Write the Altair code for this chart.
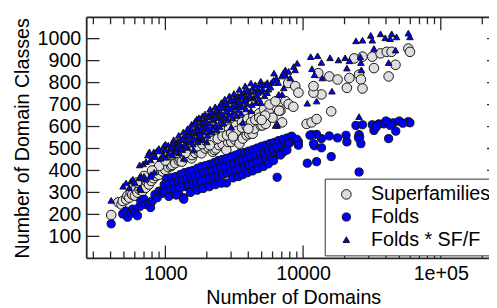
import altair as alt
import pandas as pd

# ---------------- data ----------------
sf_x = [404, 455, 480, 490, 520, 530, 547, 560, 575, 600, 610, 627, 650, 660, 682, 700, 720, 730, 760, 775,
        790, 810, 820, 850, 872, 880, 900, 926, 950, 960, 1000, 1040, 1050, 1100, 1122, 1150, 1179, 1250, 1260, 1287,
        1316, 1380, 1400, 1480, 1500, 1550, 1559, 1650, 1660, 1750, 1800, 1838, 1830, 1950, 1980, 2050, 2150, 2210, 2280, 2340,
        2400, 2450, 2600, 2650, 2772, 2850, 2900, 3010, 3200, 3250, 3450, 3600, 3650, 3900, 3950, 4070, 4300, 4350, 4420, 4800,
        4930, 5070, 5200, 5350, 5640, 5700, 6000, 6300, 6850, 7040, 6700, 7440, 7850, 7800, 8500, 8770, 9250, 10610, 11530, 12540,
        16000, 25500, 13600, 11900, 11900, 12900, 15500, 17800, 21700, 25500, 26300, 27000, 20800, 32700, 41800, 46900, 23500, 27000, 31800, 36500,
        40500, 43900, 58100, 59700,
        1100, 1200, 1300, 1420, 1550, 1700, 1850, 2000, 2200, 2400, 2600, 2800, 3000, 3300, 3600, 3900, 4200, 4500, 4800, 5300,
        900, 800, 700, 620, 1000, 1400, 2100, 3100, 4000, 5000]
sf_y = [197, 255, 245, 261, 268, 285, 276, 300, 290, 285, 315, 299, 312, 335, 306, 330, 321, 350, 336, 365,
        352, 385, 365, 375, 388, 410, 380, 403, 430, 395, 403, 440, 415, 420, 425, 455, 433, 445, 475, 448,
        440, 490, 460, 465, 505, 455, 470, 480, 515, 485, 535, 493, 478, 500, 545, 505, 555, 485, 493, 500,
        570, 515, 520, 580, 493, 530, 590, 530, 540, 605, 522, 620, 545, 560, 635, 567, 567, 645, 590, 660,
        605, 605, 680, 612, 664, 700, 640, 715, 672, 619, 672, 716, 702, 798, 690, 784, 754, 612, 619, 634,
        669, 552, 746, 754, 784, 843, 828, 814, 821, 836, 814, 773, 776, 866, 828, 881, 910, 918, 918, 933,
        940, 940, 955, 940,
        470, 480, 490, 500, 505, 510, 520, 530, 535, 545, 555, 560, 570, 580, 595, 600, 620, 630, 640, 650,
        420, 400, 375, 345, 445, 480, 515, 555, 590, 630]

fold_x = [404, 490, 515, 532, 560, 578, 600, 627, 650, 663, 700, 720, 760, 781, 803, 840, 872, 900, 940, 952,
          972, 1005, 1090, 1116, 1153, 1245, 1252, 1350, 1360, 1397, 1467, 1517, 1638, 1693, 1890, 1930, 2275, 2352, 2610, 2772,
          1020, 1110, 1190, 1290, 1380, 1490, 1590, 1710, 1830, 1960, 2100, 2260, 2420, 2600, 2790, 3000, 3230, 3470, 3730, 4010,
          4310, 4630, 4980, 5350, 5750, 6180, 6640, 7140, 7680, 8260,
          980, 1060, 1150, 1240, 1330, 1430, 1540, 1650, 1770, 1900, 2040, 2190, 2360, 2540, 2730, 2930, 3150, 3390, 3640, 3910,
          4200, 4520, 4860, 5220, 5610, 6030, 6480, 6970, 7490, 8050,
          1000, 1080, 1170, 1260, 1360, 1460, 1570, 1690, 1810, 1950, 2090, 2250, 2420, 2600, 2800, 3010, 3240, 3480, 3740, 4020,
          4330, 4650, 5000, 5380, 5780, 6220, 6690, 7190,
          1060, 1200, 1520, 1700, 1880, 2080, 2300, 2550, 3090, 3400, 3650, 3950, 4300, 4700, 5150, 5600, 6100, 6480, 6850,
          24200, 27000, 31800, 32700, 35500, 38500, 41800, 45400, 47100, 41800, 58100, 59700, 25500, 25500, 26300, 20500, 20800, 17800, 15500, 13600,
          13600, 12540, 11530, 12100, 16000, 12540, 10730, 25500, 9250, 9000, 7850, 7630, 11900, 11220, 9250, 40000, 34000, 43000, 50000, 53000]
fold_y = [157, 202, 215, 187, 205, 224, 210, 194, 235, 261, 269, 245, 250, 231, 261, 290, 276, 306, 295, 306,
          306, 306, 313, 321, 321, 313, 291, 276, 269, 328, 328, 343, 336, 366, 373, 351, 373, 358, 388, 343,
          362, 368, 372, 382, 390, 396, 400, 410, 418, 422, 428, 436, 445, 450, 455, 462, 470, 478, 482, 488,
          494, 502, 510, 515, 522, 528, 536, 542, 548, 556,
          335, 338, 344, 350, 356, 362, 368, 372, 380, 388, 392, 398, 406, 412, 420, 425, 432, 440, 448, 455,
          460, 468, 475, 482, 490, 498, 505, 512, 520, 528,
          305, 310, 316, 322, 326, 333, 338, 345, 350, 356, 362, 368, 375, 382, 388, 395, 402, 410, 416, 424,
          430, 438, 445, 452, 460, 468, 476, 484,
          282, 288, 300, 310, 318, 326, 335, 342, 366, 372, 381, 390, 398, 408, 418, 430, 445, 369, 470,
          605, 608, 608, 582, 612, 612, 617, 617, 579, 545, 622, 617, 563, 545, 522, 560, 530, 548, 557, 545,
          503, 564, 563, 512, 463, 440, 433, 393, 530, 542, 522, 493, 522, 560, 515, 625, 598, 605, 625, 615]

tri_x = [404, 493, 518, 547, 562, 580, 600, 645, 650, 663, 666, 700, 720, 781, 785, 830,
         650, 690, 724, 745, 765, 781, 800, 825, 848, 870, 896, 940, 972, 1000, 1050, 1122, 1146, 1180, 1218, 1245,
         1300, 1360, 1360, 1420, 1477, 1540, 1603, 1647, 1693, 1740, 1790, 1860, 1940, 2000, 2110, 2300, 2554, 2700, 2920, 3150,
         3450, 3800, 4180, 4930, 5350, 6150, 7440, 8550,
         1838, 2110, 2352, 3010, 3650, 4183, 4930, 6480, 5480, 4540, 6660, 6310,
         920, 960, 1010, 1060, 1090, 1130, 1170, 1220, 1260, 1290, 1330, 1380, 1410, 1450, 1500, 1530, 1580, 1620, 1660, 1700,
         1720, 1760, 1800, 1820, 1870, 1900, 1930, 1960, 2020, 2050, 2080, 2120, 2170, 2200, 2230, 2260, 2330, 2380, 2420, 2480,
         2520, 2560, 2600, 2650, 2700, 2750, 2800, 2860, 2900, 2960, 3000, 3080, 3120, 3180, 3230, 3300, 3360, 3420, 3480, 3550,
         3620, 3700, 3760, 3850, 3920, 4000, 4060, 4250, 4350, 4450, 4600, 4700, 4800, 5000, 5100, 5250, 5600, 5900, 6400, 7000, 5300,
         1150, 1250, 1350, 1450, 1550, 1650, 1750, 1850, 1950, 2050, 2150, 2250, 2350, 2450, 2550, 2650, 2750, 2850, 2950, 3050,
         3150, 3250, 3350, 3450, 3550, 3650, 3750, 3850, 3950, 4100, 4300, 4500, 4700, 4900, 5100, 5500, 5800, 6100, 6600, 7200,
         1000, 1100, 1200, 1300, 1400, 1500, 1600, 1700, 1800, 1900,
         24200, 27000, 31000, 31800, 36500, 39500, 42900, 44000, 47700, 58100, 59700, 32700, 46900, 11350, 12750, 13600, 15700, 18070, 20200, 21700,
         26000, 26300, 26500, 20800, 41800, 13800, 12100, 11600, 9060, 8770, 7850, 8080, 7440, 16200, 12540, 10730, 25500, 7040, 7240, 6480]
tri_y = [264, 328, 343, 321, 351, 360, 345, 366, 321, 313, 373, 373, 360, 373, 381, 392,
         425, 430, 440, 470, 485, 448, 465, 485, 463, 490, 500, 488, 510, 495, 515, 522, 525, 505, 530, 530,
         540, 552, 455, 560, 575, 590, 493, 619, 634, 545, 634, 648, 657, 530, 679, 690, 709, 725, 739, 750,
         769, 785, 798, 806, 791, 843, 858, 873,
         552, 582, 585, 597, 619, 672, 709, 605, 754, 709, 746, 605,
         455, 470, 460, 478, 500, 470, 490, 505, 480, 515, 495, 520, 540, 505, 530, 555, 520, 545, 570, 600,
         530, 560, 585, 615, 540, 575, 600, 630, 560, 590, 615, 645, 575, 600, 630, 660, 610, 640, 668, 600,
         625, 650, 685, 615, 640, 668, 700, 630, 655, 680, 715, 640, 665, 690, 720, 650, 675, 700, 735, 660,
         690, 715, 748, 680, 705, 730, 760, 700, 730, 760, 740, 775, 725, 760, 790, 740, 770, 800, 820, 830, 790,
         540, 560, 575, 590, 610, 625, 640, 600, 610, 650, 665, 640, 675, 690, 660, 700, 705, 690, 720, 690,
         725, 700, 740, 715, 745, 735, 760, 725, 765, 740, 775, 790, 755, 790, 770, 800, 780, 810, 800, 845,
         520, 505, 485, 500, 510, 560, 575, 585, 560, 620,
         990, 993, 1015, 993, 1022, 1004, 1000, 1022, 1008, 1025, 1008, 955, 948, 918, 922, 892, 913, 903, 913, 899,
         918, 891, 858, 866, 891, 821, 836, 863, 888, 858, 851, 821, 836, 761, 716, 706, 645, 746, 776, 612]

series_names = ["Superfamilies", "Folds", "Folds * SF/F"]
y_ticks = [100, 200, 300, 400, 500, 600, 700, 800, 900, 1000]
x_major = [1000, 10000, 100000]
x_minor = [300, 400, 500, 600, 700, 800, 900, 2000, 3000, 4000, 5000, 6000, 7000, 8000, 9000,
           20000, 30000, 40000, 50000, 60000, 70000, 80000, 90000, 200000]

# ---------------- tables ----------------
rows = []
for name, xs, ys in [(series_names[0], sf_x, sf_y), (series_names[1], fold_x, fold_y), (series_names[2], tri_x, tri_y)]:
    for a, b in zip(xs, ys):
        rows.append({"domains": a, "classes": b, "series": name})
df = pd.DataFrame(rows)

W, H = 409, 245
RX = 420
FONT = "Liberation Sans"
INK = "#262626"

xscale = alt.Scale(type="log", domain=[268.3, 268300], range=[0, RX])
yscale = alt.Scale(domain=[0, 1097], nice=False, zero=False)

xaxis = alt.Axis(values=x_major, ticks=False, domain=False, grid=False,
                 labelExpr="datum.value >= 100000 ? '1e+05' : format(datum.value, 'd')",
                 labelFontSize=20, labelPadding=6, labelFlush=False,
                 title="Number of Domains", titleFontSize=20, titleFontWeight="normal",
                 titlePadding=4)
yaxis = alt.Axis(values=y_ticks, ticks=False, domain=False, grid=False, format="d",
                 labelFontSize=20, labelPadding=6,
                 title="Number of Domain Classes", titleFontSize=20, titleFontWeight="normal",
                 titlePadding=5)

leg = alt.Legend(title=None, orient="none", legendX=242, legendY=164,
                 strokeColor="#333333", fillColor="white", padding=6,
                 labelFontSize=20, labelFont=FONT, labelColor="black",
                 symbolOffset=6, labelOffset=15, rowPadding=3,
                 symbolStrokeWidth=1)

points = alt.Chart(df).mark_point(filled=True, strokeWidth=1, opacity=1).encode(
    x=alt.X("domains:Q", scale=xscale, axis=xaxis, title="Number of Domains"),
    y=alt.Y("classes:Q", scale=yscale, axis=yaxis, title="Number of Domain Classes"),
    fill=alt.Fill("series:N", scale=alt.Scale(domain=series_names, range=["#dedede", "#0000ff", "#0000ff"]),
                  legend=leg),
    stroke=alt.Stroke("series:N", scale=alt.Scale(domain=series_names, range=["#111111", "#111111", "#111111"]),
                      legend=leg),
    shape=alt.Shape("series:N", scale=alt.Scale(domain=series_names, range=["circle", "circle", "triangle-up"]),
                    legend=leg),
    size=alt.Size("series:N", scale=alt.Scale(domain=series_names, range=[95, 44, 110]),
                  legend=leg),
)

yt = pd.DataFrame({"v": y_ticks})
xmaj = pd.DataFrame({"v": x_major})
xmin = pd.DataFrame({"v": x_minor})
one = pd.DataFrame({"k": [0]})

rule_style = dict(color=INK, strokeWidth=1.3)

def yenc():
    return alt.Y("v:Q", scale=yscale, axis=yaxis, title="Number of Domain Classes")

def xenc():
    return alt.X("v:Q", scale=xscale, axis=xaxis, title="Number of Domains")

ytick_left = alt.Chart(yt).mark_rule(**rule_style).encode(y=yenc(), x=alt.value(0), x2=alt.value(13))
ytick_right = alt.Chart(yt).mark_rule(**rule_style).encode(y=yenc(), x=alt.value(RX - 13), x2=alt.value(RX))
xmaj_bottom = alt.Chart(xmaj).mark_rule(**rule_style).encode(x=xenc(), y=alt.value(H - 13), y2=alt.value(H))
xmaj_top = alt.Chart(xmaj).mark_rule(**rule_style).encode(x=xenc(), y=alt.value(0), y2=alt.value(13))
xmin_bottom = alt.Chart(xmin).mark_rule(**rule_style).encode(x=xenc(), y=alt.value(H - 7), y2=alt.value(H))
xmin_top = alt.Chart(xmin).mark_rule(**rule_style).encode(x=xenc(), y=alt.value(0), y2=alt.value(7))

frame_style = dict(color=INK, strokeWidth=1.8)
frame_top = alt.Chart(one).mark_rule(**frame_style).encode(x=alt.value(0), x2=alt.value(RX), y=alt.value(0))
frame_bottom = alt.Chart(one).mark_rule(**frame_style).encode(x=alt.value(0), x2=alt.value(RX), y=alt.value(H))
frame_left = alt.Chart(one).mark_rule(**frame_style).encode(x=alt.value(0), y=alt.value(0), y2=alt.value(H))

chart = alt.layer(
    points, ytick_left, ytick_right, xmaj_bottom, xmaj_top, xmin_bottom, xmin_top,
    frame_top, frame_bottom, frame_left,
).properties(
    width=W, height=H,
    padding={"left": 80, "top": 7, "right": 0, "bottom": 48},
    autosize=alt.AutoSizeParams(type="none"),
    background="white",
).configure_view(strokeWidth=0).configure_axis(
    labelFont=FONT, titleFont=FONT, labelColor="black", titleColor="black"
)

chart.save("out.html", embed_options={"renderer": "svg", "actions": False})
